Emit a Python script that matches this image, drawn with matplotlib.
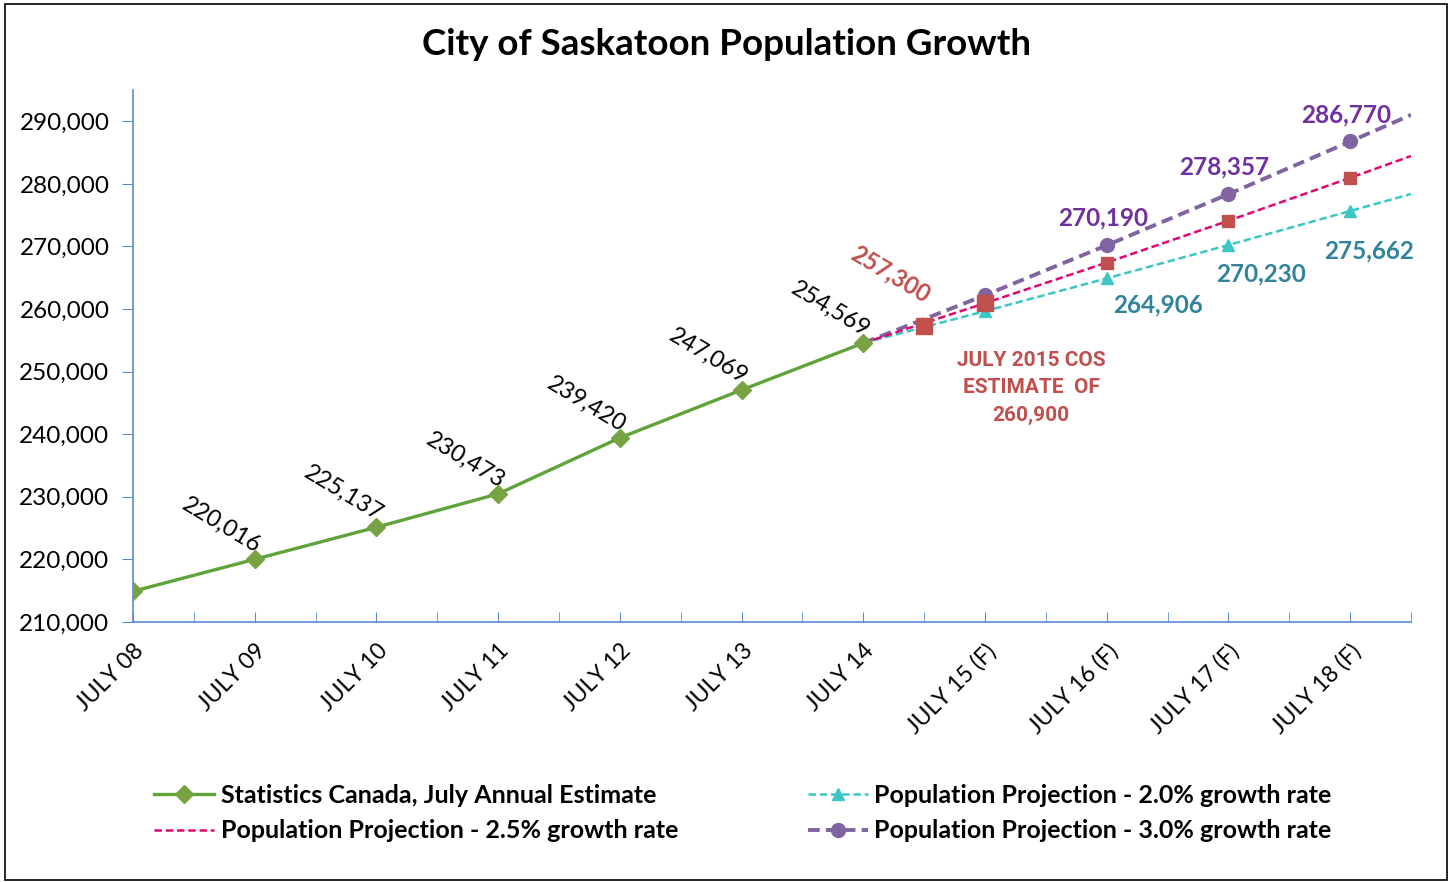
import matplotlib.pyplot as plt
from matplotlib.patches import Rectangle
from matplotlib.ticker import FuncFormatter, MultipleLocator

plt.rcParams['font.family'] = ['Lato', 'DejaVu Sans']

# Data (x in years: 8 = July 2008, 14.5 = January 2015)
years = [8, 9, 10, 11, 12, 13, 14]
statcan = [214900, 220016, 225137, 230473, 239420, 247069, 254569]

proj_x = [14, 15, 16, 17, 18, 18.5]
proj_20 = [254569, 259660, 264906, 270230, 275662, 278380]
proj_25 = [254569, 260933, 267422, 274108, 280961, 284450]
proj_30 = [254569, 262206, 270190, 278357, 286770, 291020]

cos_x = [14.5, 15, 16, 17, 18]
cos_est = [257300, 260900, 267422, 274108, 280961]

tick_years = [8, 9, 10, 11, 12, 13, 14, 15, 16, 17, 18]
tick_labels = ['JULY 08', 'JULY 09', 'JULY 10', 'JULY 11', 'JULY 12', 'JULY 13',
               'JULY 14', 'JULY 15 (F)', 'JULY 16 (F)', 'JULY 17 (F)', 'JULY 18 (F)']

green = '#5FA33B'
cyan = '#3CC6C6'
magenta = '#E0076E'
purple = '#8064A2'
red = '#C0504D'
purple_txt = '#7030A0'
teal_txt = '#31849B'
axis_blue = '#5B8BD0'

fig = plt.figure(figsize=(14.52, 8.82), dpi=100)
ax = fig.add_axes([0.0916, 0.2948, 0.8802, 0.6032])

ax.plot(proj_x, proj_20, color=cyan, lw=1.8, ls=(0, (3, 1.5)), marker='^', ms=8,
        markevery=[1, 2, 3, 4], label='Population Projection - 2.0% growth rate', zorder=3)
ax.plot(proj_x, proj_25, color=magenta, lw=1.8, ls=(0, (3, 1.5)),
        label='Population Projection - 2.5% growth rate', zorder=4)
ax.plot(proj_x, proj_30, color=purple, lw=2.8, ls=(0, (3, 1.6)), marker='o', ms=10,
        markevery=[1, 2, 3, 4], label='Population Projection - 3.0% growth rate', zorder=3)
ax.plot(cos_x[:2], cos_est[:2], ls='none', marker='s', ms=11, color=red, zorder=5)
ax.plot(cos_x[2:], cos_est[2:], ls='none', marker='s', ms=8, color=red, zorder=5)
ax.plot(years, statcan, color=green, lw=2.4, marker='D', ms=9, mfc='#77A342', mec='#77A342',
        label='Statistics Canada, July Annual Estimate', zorder=6)

# Data labels
for x, y in zip(years[1:], statcan[1:]):
    ax.annotate(f'{y:,}', (x, y), xytext=(-33, 34), textcoords='offset pixels',
                ha='center', va='center', rotation=-31, fontsize=17, color='black')
ax.annotate(f'{cos_est[0]:,}', (cos_x[0], cos_est[0]), xytext=(-34, 52), textcoords='offset pixels',
            ha='center', va='center', rotation=-31, fontsize=17, color=red, fontweight='bold')
for x, y in zip(proj_x[2:5], proj_30[2:5]):
    ax.annotate(f'{y:,}', (x, y), xytext=(-4, 27), textcoords='offset pixels',
                ha='center', va='center', fontsize=17.5, color=purple_txt, fontweight='bold')
for x, y, dx, dy in zip(proj_x[2:5], proj_20[2:5], [51, 33, 19], [-27, -29, -40]):
    ax.annotate(f'{y:,}', (x, y), xytext=(dx, dy), textcoords='offset pixels',
                ha='center', va='center', fontsize=17.5, color=teal_txt, fontweight='bold')
ax.text(15.38, 247400, 'JULY 2015 COS\nESTIMATE  OF\n260,900', ha='center', va='center',
        fontsize=15, color=red, fontweight='bold', linespacing=1.55,
        family=['Roboto', 'DejaVu Sans'])

# Axes styling
ax.set_xlim(8, 18.5)
ax.set_ylim(210000, 295000)
ax.set_yticks(range(210000, 290001, 10000))
ax.yaxis.set_major_formatter(FuncFormatter(lambda v, p: f'{int(v):,}'))
ax.set_xticks(tick_years)
ax.set_xticklabels(tick_labels, rotation=45, ha='right', rotation_mode='anchor')
ax.xaxis.set_minor_locator(MultipleLocator(0.5))
ax.tick_params(axis='y', direction='out', length=8, color=axis_blue, labelsize=17.5, pad=9)
ax.tick_params(axis='x', which='both', direction='in', length=7, color=axis_blue,
               labelsize=16.5, pad=13)
for s in ['top', 'right']:
    ax.spines[s].set_visible(False)
for s in ['left', 'bottom']:
    ax.spines[s].set_color(axis_blue)
    ax.spines[s].set_linewidth(1.2)

fig.text(0.5, 0.949, 'City of Saskatoon Population Growth', ha='center', va='center',
         fontsize=26.5, fontweight='bold')

handles, labels = ax.get_legend_handles_labels()
order = [3, 1, 0, 2]
leg = fig.legend([handles[i] for i in order], [labels[i] for i in order], ncol=2,
                 loc='center', bbox_to_anchor=(0.5117, 0.078), frameon=False,
                 prop={'size': 18, 'weight': 'bold'}, handlelength=2.4, handletextpad=0.25,
                 columnspacing=5.2, labelspacing=0.5)

fig.patches.append(Rectangle((0.0035, 0.002), 0.993, 0.994, transform=fig.transFigure,
                             fill=False, edgecolor='black', lw=1.2))

plt.savefig('out.png', dpi=100)
plt.close()
